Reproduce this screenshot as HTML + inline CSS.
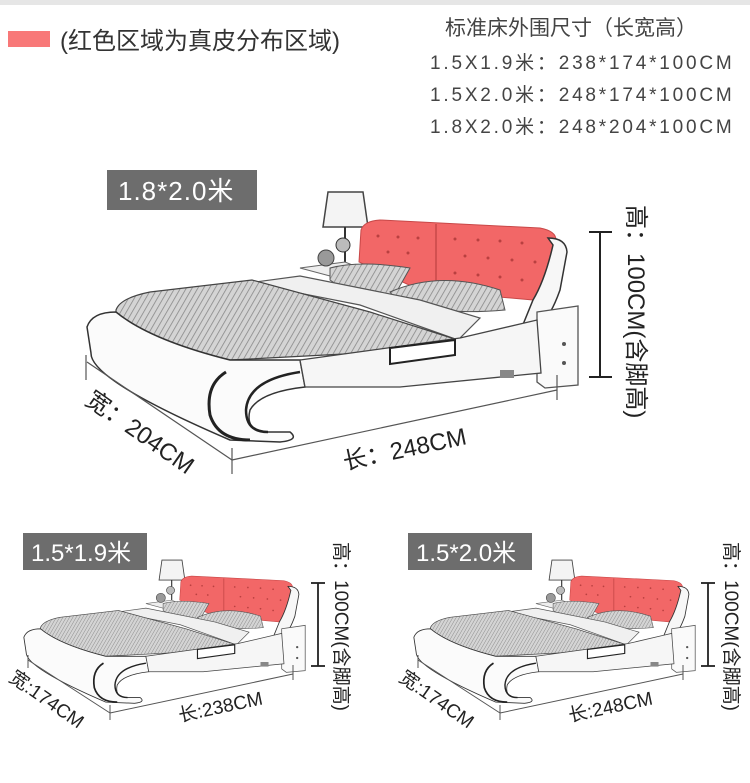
<!DOCTYPE html>
<html><head><meta charset="utf-8"><style>
html,body{margin:0;padding:0;background:#fff;}
svg{display:block;}
text{font-family:"Liberation Sans","Noto Sans CJK SC",sans-serif;}
</style></head><body>
<svg width="750" height="783" viewBox="0 0 750 783" xmlns="http://www.w3.org/2000/svg">
<defs>
<pattern id="hatch" width="5" height="5" patternUnits="userSpaceOnUse" patternTransform="rotate(30)">
<rect width="5" height="5" fill="#d4d4d4"/><path d="M0 0 L0 5" stroke="#888" stroke-width="1.6"/>
</pattern>
<g id="bed">
 <path d="M328 192 L363 192 L368 227 L323 227 Z" fill="#f4f4f4" stroke="#444" stroke-width="1.5"/>
 <line x1="345" y1="227" x2="345" y2="262" stroke="#333" stroke-width="2"/>
 <circle cx="343" cy="245" r="7" fill="#bbb" stroke="#333"/>
 <path d="M300 268 L345 262 L360 268 L330 276 Z" fill="#eee" stroke="#666"/>
 <circle cx="326" cy="258" r="8" fill="#999" stroke="#444"/>
 <path d="M359 262 L361 230 Q364 221 380 220 L540 228 Q556 231 556 240 L548 275 Q540 296 533 300 L420 290 Z" fill="#f26767" stroke="#c84848" stroke-width="1"/>
 <line x1="436" y1="224" x2="436" y2="292" stroke="#c84848" stroke-width="1.5"/>
 <g fill="#b94040">
  <circle cx="378" cy="236" r="1.5"/><circle cx="398" cy="237" r="1.5"/><circle cx="418" cy="238" r="1.5"/><circle cx="455" cy="239" r="1.5"/><circle cx="478" cy="240" r="1.5"/><circle cx="500" cy="241" r="1.5"/><circle cx="522" cy="243" r="1.5"/>
  <circle cx="388" cy="252" r="1.5"/><circle cx="408" cy="253" r="1.5"/><circle cx="465" cy="256" r="1.5"/><circle cx="488" cy="258" r="1.5"/><circle cx="512" cy="260" r="1.5"/><circle cx="535" cy="262" r="1.5"/>
  <circle cx="455" cy="273" r="1.5"/><circle cx="478" cy="275" r="1.5"/><circle cx="500" cy="277" r="1.5"/><circle cx="522" cy="280" r="1.5"/>
 </g>
 <path d="M548 238 Q566 238 567 252 L560 290 Q550 318 541 322 L522 327 L533 300 Q545 280 553 245 Z" fill="#f7f7f7" stroke="#333" stroke-width="1.5"/>
 <path d="M537 312 L578 306 L578 385 L545 388 L537 382 Z" fill="#fafafa" stroke="#555" stroke-width="1.3"/>
 <circle cx="564" cy="344" r="2" fill="#555"/><circle cx="564" cy="363" r="2" fill="#555"/>
 <path d="M330 268 Q360 260 410 268 L392 300 Q350 295 330 280 Z" fill="url(#hatch)" stroke="#555"/>
 <path d="M390 292 Q440 270 500 290 L505 310 Q450 315 400 305 Z" fill="url(#hatch)" stroke="#555"/>
 <path d="M248 283 L300 276 L420 300 L480 318 L458 340 L360 305 Z" fill="#f0f0f0" stroke="#555" stroke-width="1.2"/>
 <path d="M116 310 Q120 298 150 292 L252 280 L370 312 L458 340 L420 350 L230 360 Q150 340 116 318 Z" fill="url(#hatch)" stroke="#444" stroke-width="1.2"/>
 <path d="M87 327 Q92 312 116 312 Q150 340 230 360 L300 360 L305 387 Q260 392 250 410 Q245 430 265 432 L290 432 Q300 440 280 442 L230 440 Q90 380 91 353 Z" fill="#fbfbfb" stroke="#333" stroke-width="1.5"/>
 <path d="M226 372 Q205 385 210 415 Q218 440 250 440" fill="none" stroke="#222" stroke-width="3"/>
 <path d="M300 372 Q248 380 246 410 Q246 432 268 432" fill="none" stroke="#222" stroke-width="2.5"/>
 <path d="M300 360 L460 338 L537 320 L541 373 L400 387 L305 387 Z" fill="#f6f6f6" stroke="#444" stroke-width="1.3"/>
 <path d="M390 348 L455 340 L455 355 L390 364 Z" fill="#fff" stroke="#222" stroke-width="2"/>
 <rect x="500" y="370" width="14" height="8" fill="#888"/>
</g>
</defs>

<rect x="0" y="0" width="750" height="5" fill="#e6e6e6"/>
<rect x="8" y="31" width="42" height="16" fill="#f87878"/>
<text x="60" y="49" font-size="24" fill="#333">(红色区域为真皮分布区域)</text>
<text x="445" y="35" font-size="21" fill="#444">标准床外围尺寸（长宽高）</text>
<text x="430" y="69" font-size="19" fill="#444" letter-spacing="2.8">1.5X1.9米：238*174*100CM</text>
<text x="430" y="101" font-size="19" fill="#444" letter-spacing="2.8">1.5X2.0米：248*174*100CM</text>
<text x="430" y="133" font-size="19" fill="#444" letter-spacing="2.8">1.8X2.0米：248*204*100CM</text>

<rect x="107" y="170" width="150" height="40" fill="#6d6d6d"/>
<text x="118" y="200" font-size="26" fill="#fff" letter-spacing="1">1.8*2.0米</text>
<use href="#bed"/>
<g stroke="#222" stroke-width="2">
 <line x1="600" y1="232" x2="600" y2="377"/><line x1="589" y1="232" x2="612" y2="232"/><line x1="589" y1="377" x2="612" y2="377"/>
</g>
<g stroke="#555" stroke-width="1.2">
 <line x1="232" y1="460" x2="557" y2="390"/><line x1="232" y1="448" x2="232" y2="474"/><line x1="557" y1="375" x2="557" y2="400"/>
 <line x1="87" y1="362" x2="232" y2="460"/><line x1="86" y1="355" x2="86" y2="380"/>
</g>
<text transform="translate(628,205) rotate(90)" font-size="24" fill="#222">高：100CM(含脚高)</text>
<text transform="translate(345,470) rotate(-12)" font-size="24" fill="#222">长：248CM</text>
<text transform="translate(84,403) rotate(35)" font-size="24" fill="#222">宽：204CM</text>

<rect x="23" y="533" width="124" height="37" fill="#6d6d6d"/>
<text x="31" y="561" font-size="24" fill="#fff">1.5*1.9米</text>
<use href="#bed" transform="translate(-26,450) scale(0.573)"/>
<g stroke="#222" stroke-width="1.8">
 <line x1="318" y1="583" x2="318" y2="666"/><line x1="311" y1="583" x2="325" y2="583"/><line x1="311" y1="666" x2="325" y2="666"/>
</g>
<g stroke="#555" stroke-width="1">
 <line x1="110" y1="713" x2="293" y2="674"/><line x1="110" y1="705" x2="110" y2="720"/><line x1="293" y1="665" x2="293" y2="680"/>
 <line x1="28" y1="660" x2="110" y2="713"/><line x1="28" y1="655" x2="28" y2="668"/>
</g>
<text transform="translate(335,542) rotate(90)" font-size="19" fill="#222">高：100CM(含脚高)</text>
<text transform="translate(180,722) rotate(-12)" font-size="19" fill="#222">长:238CM</text>
<text transform="translate(8,680) rotate(35)" font-size="19" fill="#222">宽:174CM</text>

<rect x="408" y="533" width="124" height="37" fill="#6d6d6d"/>
<text x="416" y="561" font-size="24" fill="#fff">1.5*2.0米</text>
<use href="#bed" transform="translate(364,450) scale(0.573)"/>
<g stroke="#222" stroke-width="1.8">
 <line x1="708" y1="583" x2="708" y2="666"/><line x1="701" y1="583" x2="715" y2="583"/><line x1="701" y1="666" x2="715" y2="666"/>
</g>
<g stroke="#555" stroke-width="1">
 <line x1="500" y1="713" x2="683" y2="674"/><line x1="500" y1="705" x2="500" y2="720"/><line x1="683" y1="665" x2="683" y2="680"/>
 <line x1="418" y1="660" x2="500" y2="713"/><line x1="418" y1="655" x2="418" y2="668"/>
</g>
<text transform="translate(725,542) rotate(90)" font-size="19" fill="#222">高：100CM(含脚高)</text>
<text transform="translate(570,722) rotate(-12)" font-size="19" fill="#222">长:248CM</text>
<text transform="translate(398,680) rotate(35)" font-size="19" fill="#222">宽:174CM</text>
</svg>
</body></html>
